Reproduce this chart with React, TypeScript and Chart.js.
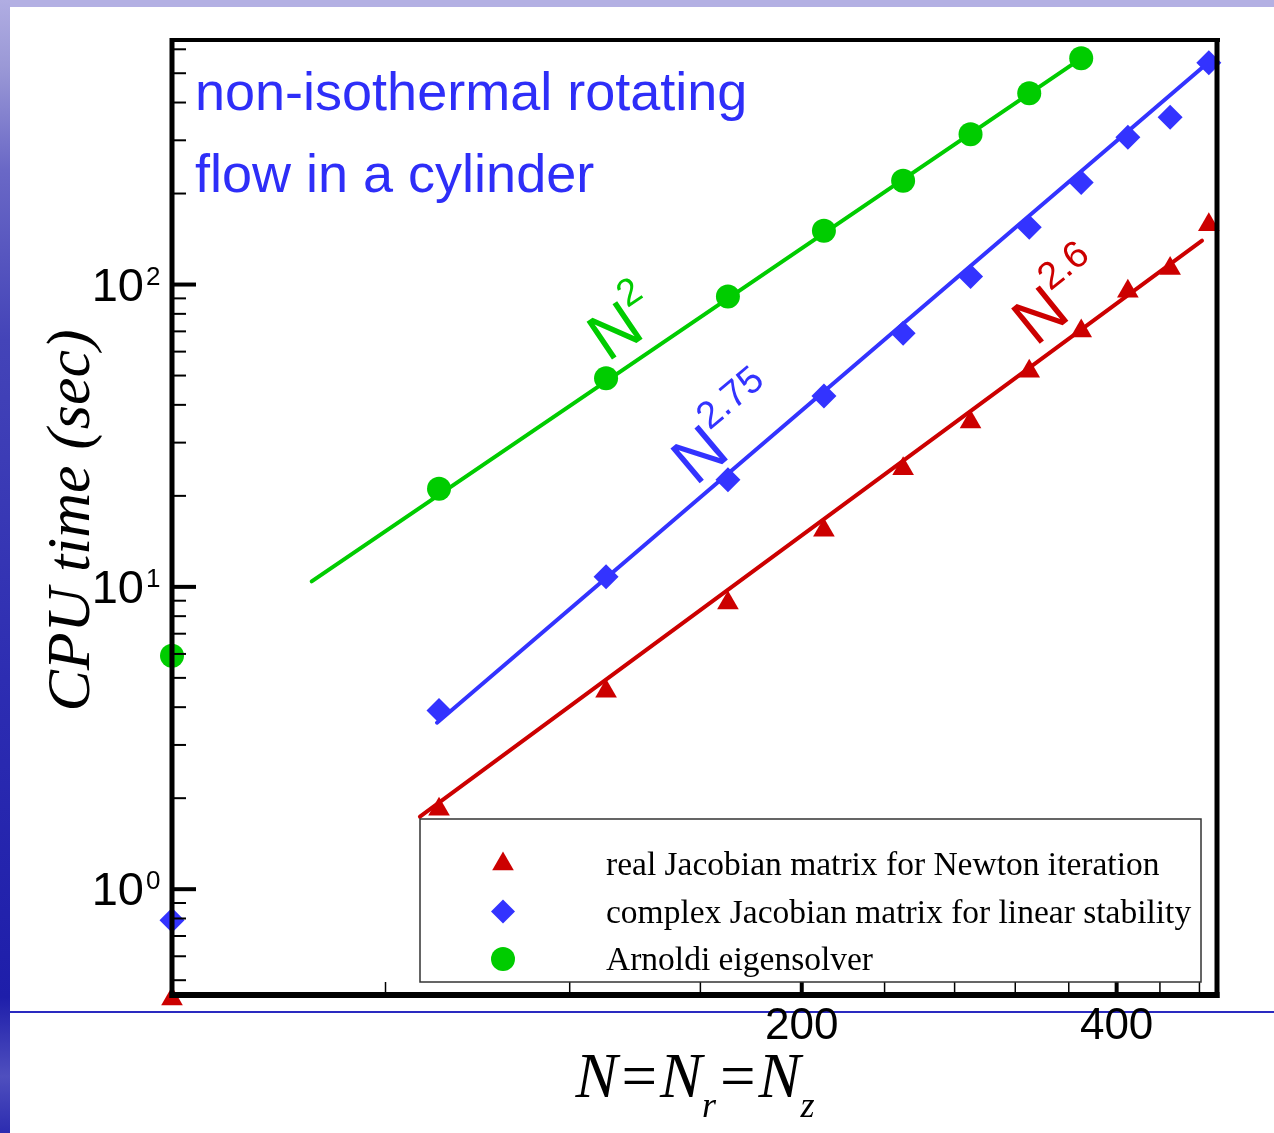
import React, { useEffect, useRef } from 'react';
import { Chart, registerables } from 'chart.js';

Chart.register(...registerables);

// ---------- data ----------
const GRID_N = [50, 90, 130, 170, 210, 250, 290, 330, 370, 410, 450, 490];
const REAL_TIME = [0.433, 1.84, 4.52, 8.85, 15.4, 24.6, 35.1, 51.7, 70.2, 95.0, 112.9, 157.6];
const COMPLEX_TIME = [0.79, 3.9, 10.8, 22.6, 42.8, 69.0, 106.3, 154.6, 217.5, 306.9, 357.4, 541.9];
const ARNOLDI_N = [50, 90, 130, 170, 210, 250, 290, 330, 370];
const ARNOLDI_TIME = [5.92, 21.1, 49.0, 91.3, 150.6, 220.6, 313.9, 429.4, 560.6];

// power-law fit lines (end points)
const FIT_REAL_N = [86.3, 482.7];
const FIT_REAL_T = [1.737, 139.7];
const FIT_COMPLEX_N = [89.6, 490];
const FIT_COMPLEX_T = [3.555, 545];
const FIT_ARNOLDI_N = [68, 370];
const FIT_ARNOLDI_T = [10.43, 560];

const SERIES_LABELS = [
  'real Jacobian matrix for Newton iteration',
  'complex Jacobian matrix for linear stability',
  'Arnoldi eigensolver',
];

// axes
const X_MIN = 50;
const X_MAX = 500;
const Y_MIN = 0.4467;
const Y_MAX = 644;
const X_MAJOR_TICKS = [200, 400];
const X_MAJOR_LABELS = ['200', '400'];
const X_MINOR_TICKS = [80, 120, 160, 240, 280, 320, 360, 440, 480];
const Y_MAJOR_TICKS = [1, 10, 100];
const Y_MAJOR_EXPONENTS = ['0', '1', '2'];
const Y_MINOR_TICKS = [0.5, 0.6, 0.7, 0.8, 0.9, 2, 3, 4, 5, 6, 7, 8, 9, 20, 30, 40, 50, 60, 70, 80, 90, 200, 300, 400, 500, 600];

// text annotations: power-law labels anchored in data coordinates
const POWER_LABELS = [
  { base: 'N', exp: '2', n: 130.4, t: 55.2, angleDeg: -34, color: '#00cc00' },
  { base: 'N', exp: '2.75', n: 158.3, t: 21.45, angleDeg: -40, color: '#3333ff' },
  { base: 'N', exp: '2.6', n: 334.5, t: 62.0, angleDeg: -39, color: '#cc0000' },
];
const NOTE_LINES = ['non-isothermal rotating', 'flow in a cylinder'];

const RED = '#cc0000';
const BLUE = '#3333ff';
const GREEN = '#00cc00';
const SANS = '"Liberation Sans", Arial, sans-serif';
const SERIF = '"Liberation Serif", "Times New Roman", serif';

function toPts(xs: number[], ys: number[]) {
  return xs.map((x, i) => ({ x, y: ys[i] }));
}

function drawMarker(ctx: CanvasRenderingContext2D, style: string, x: number, y: number, r: number, color: string) {
  ctx.save();
  ctx.fillStyle = color;
  ctx.beginPath();
  if (style === 'circle') {
    ctx.arc(x, y, r, 0, Math.PI * 2);
  } else if (style === 'triangle') {
    let a = 0;
    ctx.moveTo(x + Math.sin(a) * r, y - Math.cos(a) * r);
    a += (2 * Math.PI) / 3;
    ctx.lineTo(x + Math.sin(a) * r, y - Math.cos(a) * r);
    a += (2 * Math.PI) / 3;
    ctx.lineTo(x + Math.sin(a) * r, y - Math.cos(a) * r);
  } else {
    ctx.moveTo(x - r, y);
    ctx.lineTo(x, y - r);
    ctx.lineTo(x + r, y);
    ctx.lineTo(x, y + r);
  }
  ctx.closePath();
  ctx.fill();
  ctx.restore();
}

const slidePlugin = {
  id: 'slide',
  beforeDraw(chart: any) {
    const { ctx, width, height } = chart;
    ctx.save();
    ctx.fillStyle = '#ffffff';
    ctx.fillRect(0, 0, width, height);
    // top strip
    ctx.fillStyle = '#b3b0e3';
    ctx.fillRect(0, 0, width, 7);
    // left strip
    const g = ctx.createLinearGradient(0, 0, 0, height);
    g.addColorStop(0, '#b0ade2');
    g.addColorStop(0.06, '#9a98d6');
    g.addColorStop(0.15, '#6a68c6');
    g.addColorStop(0.3, '#4444b8');
    g.addColorStop(0.6, '#2d2db2');
    g.addColorStop(0.88, '#1e1eaa');
    g.addColorStop(0.95, '#4f4fbe');
    g.addColorStop(1, '#2c2cb0');
    ctx.fillStyle = g;
    ctx.fillRect(0, 0, 10, height);
    // blue rule
    ctx.fillStyle = '#2a2ac0';
    ctx.fillRect(10, 1011, width - 10, 2);
    ctx.restore();
  },
};

const decorPlugin = {
  id: 'decor',
  afterDatasetsDraw(chart: any) {
    const { ctx, chartArea: ca } = chart;
    const xs = chart.scales.x;
    const ys = chart.scales.y;
    ctx.save();

    // ----- ticks -----
    ctx.strokeStyle = '#000';
    ctx.lineCap = 'butt';
    Y_MINOR_TICKS.forEach((v) => {
      const py = ys.getPixelForValue(v);
      ctx.lineWidth = 2;
      ctx.beginPath();
      ctx.moveTo(ca.left, py);
      ctx.lineTo(ca.left + 14, py);
      ctx.stroke();
    });
    Y_MAJOR_TICKS.forEach((v) => {
      const py = ys.getPixelForValue(v);
      ctx.lineWidth = 4;
      ctx.beginPath();
      ctx.moveTo(ca.left, py);
      ctx.lineTo(ca.left + 24, py);
      ctx.stroke();
    });
    X_MINOR_TICKS.forEach((v) => {
      const px = xs.getPixelForValue(v);
      ctx.lineWidth = 1.5;
      ctx.beginPath();
      ctx.moveTo(px, ca.bottom);
      ctx.lineTo(px, ca.bottom - 13);
      ctx.stroke();
    });
    X_MAJOR_TICKS.forEach((v) => {
      const px = xs.getPixelForValue(v);
      ctx.lineWidth = 4;
      ctx.beginPath();
      ctx.moveTo(px, ca.bottom);
      ctx.lineTo(px, ca.bottom - 24);
      ctx.stroke();
    });

    // ----- frame -----
    ctx.lineWidth = 4;
    ctx.beginPath();
    ctx.moveTo(ca.left - 2, ca.top);
    ctx.lineTo(ca.right + 2, ca.top);
    ctx.stroke();
    ctx.lineWidth = 5;
    ctx.beginPath();
    ctx.moveTo(ca.right - 1, ca.top - 2);
    ctx.lineTo(ca.right - 1, ca.bottom + 3);
    ctx.stroke();
    ctx.beginPath();
    ctx.moveTo(ca.left, ca.top - 2);
    ctx.lineTo(ca.left, ca.bottom + 3);
    ctx.stroke();
    ctx.lineWidth = 6;
    ctx.beginPath();
    ctx.moveTo(ca.left - 2.5, ca.bottom);
    ctx.lineTo(ca.right + 1.5, ca.bottom);
    ctx.stroke();

    // ----- tick labels -----
    ctx.fillStyle = '#000';
    ctx.font = `44px ${SANS}`;
    ctx.textAlign = 'center';
    ctx.textBaseline = 'alphabetic';
    X_MAJOR_TICKS.forEach((v, i) => {
      ctx.fillText(X_MAJOR_LABELS[i], xs.getPixelForValue(v), ca.bottom + 44);
    });
    Y_MAJOR_TICKS.forEach((v, i) => {
      const py = ys.getPixelForValue(v);
      ctx.font = `47px ${SANS}`;
      ctx.textAlign = 'right';
      ctx.fillText('10', ca.left - 28, py + 16);
      ctx.font = `26px ${SANS}`;
      ctx.textAlign = 'left';
      ctx.fillText(Y_MAJOR_EXPONENTS[i], ca.left - 26, py);
    });

    // ----- axis titles -----
    ctx.save();
    ctx.translate(89, (ca.top + ca.bottom) / 2 + 3);
    ctx.rotate(-Math.PI / 2);
    ctx.font = `italic 62px ${SERIF}`;
    ctx.textAlign = 'center';
    ctx.fillText('CPU time (sec)', 0, 0);
    ctx.restore();

    const big = `italic 63px ${SERIF}`;
    const small = `italic 36px ${SERIF}`;
    const pieces: [string, string, number][] = [
      ['N', big, 0], ['=', big, 0], ['N', big, 0], ['r', small, 20],
      ['=', big, 0], ['N', big, 0], ['z', small, 20],
    ];
    let total = 0;
    pieces.forEach(([t, f]) => { ctx.font = f; total += ctx.measureText(t).width; });
    let cx = 695 - total / 2;
    ctx.textAlign = 'left';
    pieces.forEach(([t, f, dy]) => {
      ctx.font = f;
      ctx.fillText(t, cx, 1097 + dy);
      cx += ctx.measureText(t).width;
    });

    // ----- note text -----
    ctx.fillStyle = '#2e2ef8';
    ctx.font = `54px ${SANS}`;
    ctx.textAlign = 'left';
    NOTE_LINES.forEach((line, i) => {
      ctx.fillText(line, ca.left + 23, ca.top + 70 + i * 82);
    });

    // ----- power labels -----
    POWER_LABELS.forEach((p) => {
      const px = xs.getPixelForValue(p.n);
      const py = ys.getPixelForValue(p.t);
      ctx.save();
      ctx.translate(px, py);
      ctx.rotate((p.angleDeg * Math.PI) / 180);
      ctx.fillStyle = p.color;
      ctx.font = `66px ${SANS}`;
      ctx.textAlign = 'left';
      ctx.fillText(p.base, 0, 0);
      const w = ctx.measureText(p.base).width;
      ctx.font = `38px ${SANS}`;
      ctx.fillText(p.exp, w - 1, -34);
      ctx.restore();
    });

    // ----- legend -----
    const lx0 = ca.left + 248;
    const lx1 = ca.right - 17;
    const ly0 = 819;
    const ly1 = ca.bottom - 13;
    ctx.fillStyle = '#fff';
    ctx.fillRect(lx0, ly0, lx1 - lx0, ly1 - ly0);
    ctx.strokeStyle = '#333';
    ctx.lineWidth = 1.5;
    ctx.strokeRect(lx0, ly0, lx1 - lx0, ly1 - ly0);
    const series = chart.data.datasets.filter((d: any) => d.inLegend);
    series.forEach((d: any, i: number) => {
      const cy = 864 + i * 47.5;
      drawMarker(ctx, d.pointStyle, lx0 + 83, cy, d.pointStyle === 'triangle' ? 12.5 : 12, d.backgroundColor);
      ctx.fillStyle = '#000';
      ctx.font = `33.5px ${SERIF}`;
      ctx.textAlign = 'left';
      ctx.fillText(d.label, lx0 + 186, cy + 11);
    });

    ctx.restore();
  },
};

export default function App() {
  const ref = useRef<HTMLCanvasElement>(null);
  useEffect(() => {
    if (!ref.current) return;
    const pointDs = (label: string, xs: number[], ys: number[], color: string, style: string, r: number) => ({
      label,
      data: toPts(xs, ys),
      backgroundColor: color,
      borderColor: color,
      pointStyle: style,
      pointRadius: r,
      pointBorderWidth: 0,
      showLine: false,
      clip: false,
      inLegend: true,
    });
    const lineDs = (xs: number[], ys: number[], color: string) => ({
      label: '',
      data: toPts(xs, ys),
      borderColor: color,
      backgroundColor: color,
      borderWidth: 4,
      borderCapStyle: 'round',
      pointRadius: 0,
      showLine: true,
      fill: false,
      inLegend: false,
    });
    const chart = new Chart(ref.current, {
      type: 'scatter',
      data: {
        datasets: [
          pointDs(SERIES_LABELS[0], GRID_N, REAL_TIME, RED, 'triangle', 12.5),
          pointDs(SERIES_LABELS[1], GRID_N, COMPLEX_TIME, BLUE, 'rectRot', 12.5),
          pointDs(SERIES_LABELS[2], ARNOLDI_N, ARNOLDI_TIME, GREEN, 'circle', 12),
          lineDs(FIT_REAL_N, FIT_REAL_T, RED),
          lineDs(FIT_COMPLEX_N, FIT_COMPLEX_T, BLUE),
          lineDs(FIT_ARNOLDI_N, FIT_ARNOLDI_T, GREEN),
        ] as any,
      },
      options: {
        responsive: false,
        animation: false,
        events: [],
        devicePixelRatio: 1,
        layout: { padding: { left: 172, top: 40, right: 56, bottom: 138 } },
        plugins: { legend: { display: false }, tooltip: { enabled: false }, title: { display: false } },
        scales: {
          x: { type: 'logarithmic', min: X_MIN, max: X_MAX, display: false },
          y: { type: 'logarithmic', min: Y_MIN, max: Y_MAX, display: false },
        },
      },
      plugins: [slidePlugin, decorPlugin],
    } as any);
    return () => chart.destroy();
  }, []);
  return (
    <div style={{ position: 'absolute', left: 0, top: 0, width: 1274, height: 1133 }}>
      <canvas ref={ref} width={1274} height={1133} style={{ display: 'block' }} />
    </div>
  );
}
